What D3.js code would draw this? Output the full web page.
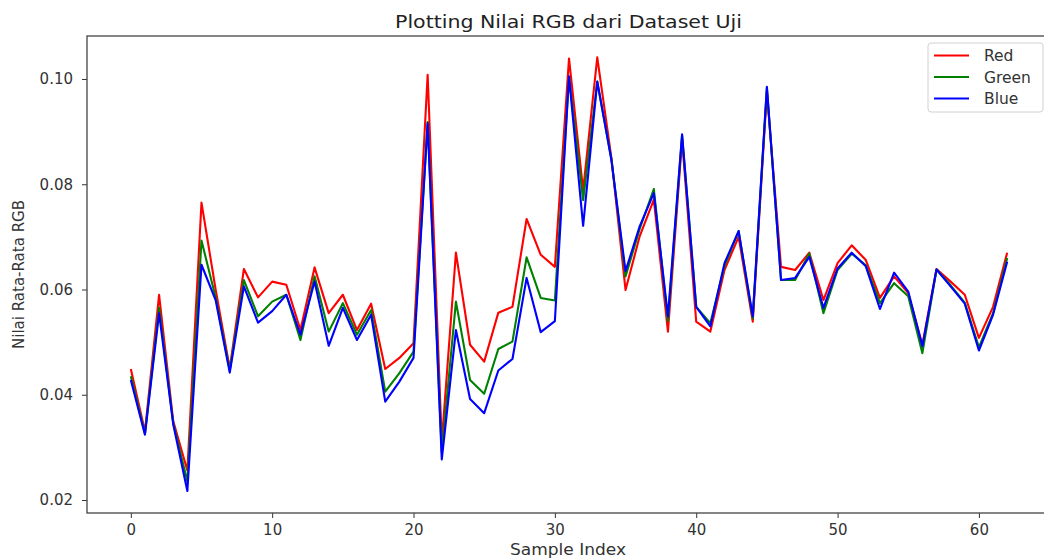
<html>
    <head>
        <script src="https://d3js.org/d3.v7.min.js"></script>
        <style>
            body{
                margin: 0;
                background: #fff;
                font-family: 'DejaVu Sans', sans-serif;
            }
        </style>
    </head>
    <body>
        <svg id="svg" width="1044" height="560"></svg>
        <script>
            var red = [0.0449,0.0330,0.0590,0.0350,0.0256,0.0765,0.0600,0.0450,0.0639,0.0585,0.0615,0.0609,0.0523,0.0642,0.0555,0.0590,0.0523,0.0573,0.0449,0.0470,0.0498,
                       0.1008,0.0310,0.0670,0.0495,0.0463,0.0556,0.0567,0.0734,0.0666,0.0643,0.1039,0.0789,0.1041,0.0850,0.0599,0.0701,0.0771,0.0520,0.0885,0.0539,0.0520,
                       0.0637,0.0700,0.0539,0.0975,0.0643,0.0637,0.0670,0.0580,0.0650,0.0684,0.0656,0.0584,0.0625,0.0593,0.0495,0.0639,0.0615,0.0590,0.0508,0.0567,0.0670];
            var green = [0.0435,0.0326,0.0565,0.0346,0.0235,0.0693,0.0585,0.0446,0.0618,0.0549,0.0577,0.0590,0.0504,0.0625,0.0520,0.0574,0.0514,0.0561,0.0406,0.0441,0.0482,
                       0.0918,0.0290,0.0577,0.0428,0.0402,0.0487,0.0501,0.0661,0.0584,0.0579,0.1004,0.0770,0.0995,0.0848,0.0625,0.0715,0.0791,0.0540,0.0893,0.0567,0.0536,
                       0.0645,0.0711,0.0545,0.0983,0.0618,0.0618,0.0668,0.0555,0.0637,0.0668,0.0646,0.0574,0.0612,0.0587,0.0479,0.0638,0.0608,0.0575,0.0490,0.0555,0.0660];
            var blue = [0.0428,0.0324,0.0555,0.0344,0.0217,0.0647,0.0580,0.0442,0.0606,0.0537,0.0559,0.0590,0.0514,0.0615,0.0493,0.0565,0.0504,0.0552,0.0387,0.0425,0.0470,
                       0.0916,0.0277,0.0523,0.0392,0.0365,0.0446,0.0468,0.0622,0.0519,0.0540,0.1005,0.0721,0.0995,0.0846,0.0635,0.0720,0.0783,0.0549,0.0895,0.0567,0.0530,
                       0.0650,0.0711,0.0549,0.0985,0.0618,0.0622,0.0662,0.0565,0.0640,0.0670,0.0644,0.0563,0.0632,0.0596,0.0492,0.0638,0.0606,0.0573,0.0484,0.0552,0.0653];
            var seriesNames = ['Red', 'Green', 'Blue'];
            var seriesColors = ['red', 'green', 'blue'];
            var xTicks = [0, 10, 20, 30, 40, 50, 60];
            var yTicks = [0.02, 0.04, 0.06, 0.08, 0.10];

            var svg = d3.select("svg");
            // plot box (right edge runs past the picture, as in the original)
            var pLeft = 87, pRight = 1051, pTop = 36, pBottom = 513;

            var x = d3.scaleLinear().domain([-3.1, 65.1]).range([pLeft, pRight]);
            var y = d3.scaleLinear().domain([0.01753, 0.10817]).range([pBottom, pTop]);

            var line = d3.line()
                .x(function(d, i){ return x(i); })
                .y(function(d){ return y(d); });

            [red, green, blue].forEach(function(s, k){
                svg.append("path")
                    .datum(s)
                    .attr("d", line)
                    .attr("fill", "none")
                    .attr("stroke", seriesColors[k])
                    .attr("stroke-width", 2.1)
                    .attr("stroke-linejoin", "round");
            });

            // axes
            var xAxis = svg.append("g")
                .attr("transform", "translate(0," + pBottom + ")")
                .call(d3.axisBottom(x).tickValues(xTicks).tickFormat(d3.format("d")).tickSizeInner(5).tickSizeOuter(0).tickPadding(6));
            var yAxis = svg.append("g")
                .attr("transform", "translate(" + pLeft + ",0)")
                .call(d3.axisLeft(y).tickValues(yTicks).tickFormat(d3.format(".2f")).tickSizeInner(5).tickSizeOuter(0).tickPadding(9));
            [xAxis, yAxis].forEach(function(a){
                a.select(".domain").remove();
                a.selectAll("text").attr("font-family", "DejaVu Sans").attr("font-size", 15).attr("fill", "#333");
                a.selectAll("line").attr("stroke", "#333");
            });

            svg.append("rect")
                .attr("x", pLeft).attr("y", pTop)
                .attr("width", pRight - pLeft).attr("height", pBottom - pTop)
                .attr("fill", "none").attr("stroke", "#444").attr("stroke-width", 1.3);

            svg.append("text")
                .attr("x", 568.5).attr("y", 28)
                .attr("text-anchor", "middle")
                .attr("font-size", 18).attr("fill", "#222")
                .attr("textLength", 347).attr("lengthAdjust", "spacingAndGlyphs")
                .text("Plotting Nilai RGB dari Dataset Uji");

            svg.append("text")
                .attr("x", 568).attr("y", 555)
                .attr("text-anchor", "middle")
                .attr("font-size", 15.5).attr("fill", "#333")
                .attr("textLength", 116).attr("lengthAdjust", "spacingAndGlyphs")
                .text("Sample Index");

            svg.append("text")
                .attr("transform", "translate(24," + ((pTop + pBottom) / 2) + ") rotate(-90)")
                .attr("text-anchor", "middle")
                .attr("font-size", 15).attr("fill", "#333")
                .text("Nilai Rata-Rata RGB");

            // legend
            var legend = svg.append("g");
            legend.append("rect")
                .attr("x", 928).attr("y", 43).attr("width", 115).attr("height", 69)
                .attr("rx", 3)
                .attr("fill", "#fff").attr("fill-opacity", 0.8)
                .attr("stroke", "#d0d0d0");
            seriesNames.forEach(function(n, k){
                var ly = 55.5 + k * 21.5;
                legend.append("line")
                    .attr("x1", 934).attr("x2", 969).attr("y1", ly).attr("y2", ly)
                    .attr("stroke", seriesColors[k]).attr("stroke-width", 2.1);
                legend.append("text")
                    .attr("x", 984).attr("y", ly + 5.5)
                    .attr("font-size", 15.5).attr("fill", "#333")
                    .text(n);
            });
        </script>
    </body>
</html>
